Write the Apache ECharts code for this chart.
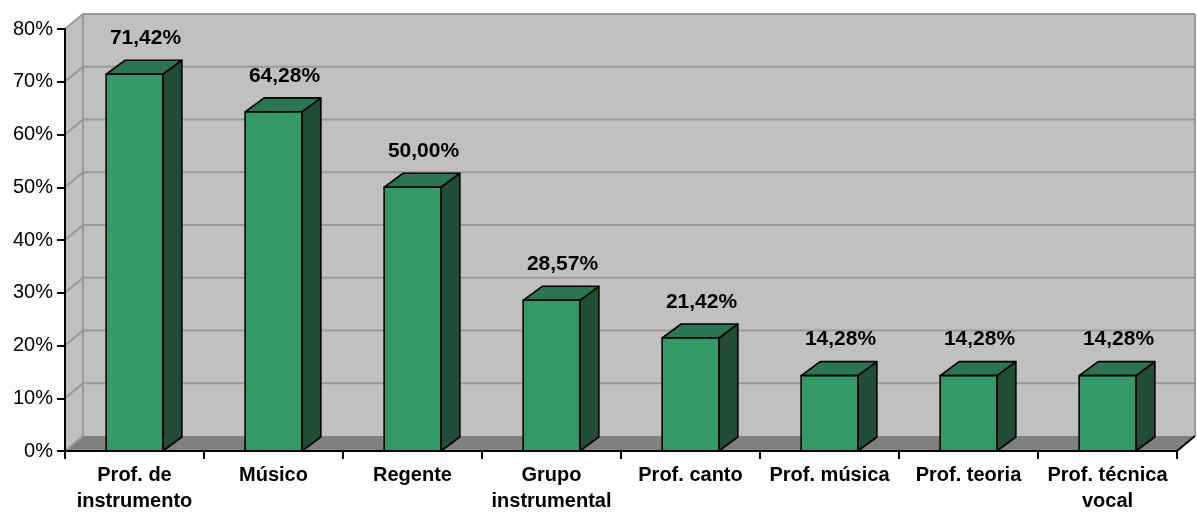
<!DOCTYPE html>
<html>
<head>
<meta charset="utf-8">
<title>Atuação profissional</title>
<script src="https://cdn.jsdelivr.net/npm/echarts@6/dist/echarts.min.js"></script>
<style>
  html, body { margin: 0; padding: 0; background: #ffffff; }
  #chart { width: 1197px; height: 512px; }
</style>
</head>
<body>
<div id="chart"></div>
<script>
// Categories (line breaks as they wrap under the axis)
const categories = [
  'Prof. de\ninstrumento',
  'Músico',
  'Regente',
  'Grupo\ninstrumental',
  'Prof. canto',
  'Prof. música',
  'Prof. teoria',
  'Prof. técnica\nvocal'
];
// Share of respondents, in percent
const shares = [71.42, 64.28, 50.00, 28.57, 21.42, 14.28, 14.28, 14.28];
// Value-axis ticks, in percent
const yTicks = [0, 10, 20, 30, 40, 50, 60, 70, 80];

// Pseudo-3D depth offsets (pixels)
const WALL_DX = 18, WALL_DY = -15;
const BAR_DX = 19, BAR_DY = -14;
const FONT = "'Liberation Sans', Arial, sans-serif";

const fmtPct = v => v.toFixed(2).replace('.', ',') + '%';

const chart = echarts.init(document.getElementById('chart'));

// Walls and floor of the 3D box, placed from the grid rectangle
function renderWalls(params, api) {
  const cs = params.coordSys;
  const x0 = cs.x, x1 = cs.x + cs.width;
  const yTop = api.coord([0, yTicks[yTicks.length - 1]])[1];
  const yBot = api.coord([0, yTicks[0]])[1];
  const edge = { stroke: '#999999', lineWidth: 2, fill: null };
  return {
    type: 'group',
    children: [
      { type: 'polygon', shape: { points: [[x0 + WALL_DX, yTop + WALL_DY], [x1 + WALL_DX, yTop + WALL_DY], [x1 + WALL_DX, yBot + WALL_DY], [x0 + WALL_DX, yBot + WALL_DY]] },
        style: { fill: '#c0c0c0' } },
      { type: 'polygon', shape: { points: [[x0, yTop], [x0 + WALL_DX, yTop + WALL_DY], [x0 + WALL_DX, yBot + WALL_DY], [x0, yBot]] },
        style: { fill: '#c0c0c0' } },
      { type: 'polygon', shape: { points: [[x0, yBot], [x0 + WALL_DX, yBot + WALL_DY], [x1 + WALL_DX, yBot + WALL_DY], [x1, yBot]] },
        style: { fill: '#808080' } },
      { type: 'polyline', shape: { points: [[x0 + WALL_DX, yTop + WALL_DY], [x0 + WALL_DX, yBot + WALL_DY]] }, style: edge },
      { type: 'polyline', shape: { points: [[x1 + WALL_DX, yTop + WALL_DY], [x1 + WALL_DX, yBot + WALL_DY]] }, style: edge },
      { type: 'polyline', shape: { points: [[x0, yBot], [x0 + WALL_DX, yBot + WALL_DY]] }, style: edge },
      { type: 'polyline', shape: { points: [[x1, yBot], [x1 + WALL_DX, yBot + WALL_DY]] },
        style: { stroke: '#000000', lineWidth: 2, fill: null } }
    ]
  };
}

// Gridlines running along the left wall and across the back wall
function renderGrid(params, api) {
  const cs = params.coordSys;
  const x0 = cs.x, x1 = cs.x + cs.width;
  const y = api.coord([0, api.value(1)])[1];
  return {
    type: 'polyline',
    shape: { points: [[x0, y], [x0 + WALL_DX, y + WALL_DY], [x1 + WALL_DX, y + WALL_DY]] },
    style: { stroke: '#999999', lineWidth: 2, fill: null }
  };
}

// 3D column: front face, top face, side face and value label
function renderBar(params, api) {
  const i = api.value(0), v = api.value(1);
  const top = api.coord([i, v]);
  const base = api.coord([i, 0]);
  const bw = api.size([1, 0])[0];
  const hw = bw * 0.204;
  const xl = top[0] - hw, xr = top[0] + hw;
  const yt = top[1], yb = base[1];
  const line = { stroke: '#000000', lineWidth: 1.6, lineJoin: 'round' };
  return {
    type: 'group',
    children: [
      { type: 'polygon', shape: { points: [[xr, yb], [xr, yt], [xr + BAR_DX, yt + BAR_DY], [xr + BAR_DX, yb + BAR_DY]] },
        style: Object.assign({ fill: '#1f4d35' }, line) },
      { type: 'polygon', shape: { points: [[xl, yt], [xl + BAR_DX, yt + BAR_DY], [xr + BAR_DX, yt + BAR_DY], [xr, yt]] },
        style: Object.assign({ fill: '#2b7650' }, line) },
      { type: 'polygon', shape: { points: [[xl, yb], [xl, yt], [xr, yt], [xr, yb]] },
        style: Object.assign({ fill: '#339966' }, line) },
      { type: 'text',
        style: { text: fmtPct(v), x: top[0] + 11, y: yt + BAR_DY - 22,
                 align: 'center', verticalAlign: 'middle',
                 font: 'bold 21px ' + FONT, fill: '#000000' } }
    ]
  };
}

chart.setOption({
  backgroundColor: '#ffffff',
  animation: false,
  grid: { left: 65, right: 20, top: 29, bottom: 61, containLabel: false, outerBoundsMode: 'none' },
  xAxis: {
    type: 'category',
    data: categories,
    z: 10,
    axisLine: { show: true, lineStyle: { color: '#000000', width: 2 } },
    axisTick: { show: true, length: 8, lineStyle: { color: '#000000', width: 2 } },
    axisLabel: { interval: 0, margin: 11, color: '#000000', fontFamily: FONT,
                 fontSize: 20, fontWeight: 'bold', lineHeight: 26 },
    splitLine: { show: false }
  },
  yAxis: {
    type: 'value',
    min: yTicks[0],
    max: yTicks[yTicks.length - 1],
    interval: yTicks[1] - yTicks[0],
    z: 10,
    axisLine: { show: true, lineStyle: { color: '#000000', width: 2 } },
    axisTick: { show: true, length: 8, lineStyle: { color: '#000000', width: 2 } },
    axisLabel: { margin: 12, color: '#000000', fontFamily: FONT, fontSize: 20,
                 formatter: '{value}%' },
    splitLine: { show: false }
  },
  series: [
    { type: 'custom', z: 1, silent: true, renderItem: renderWalls,
      encode: { x: 0, y: 1 }, data: [[0, yTicks[0]]] },
    { type: 'custom', z: 2, silent: true, renderItem: renderGrid,
      encode: { x: 0, y: 1 }, data: yTicks.slice(1).map(t => [0, t]) },
    { type: 'custom', z: 3, renderItem: renderBar,
      encode: { x: 0, y: 1 }, data: shares.map((v, i) => [i, v]) }
  ]
});
</script>
</body>
</html>
